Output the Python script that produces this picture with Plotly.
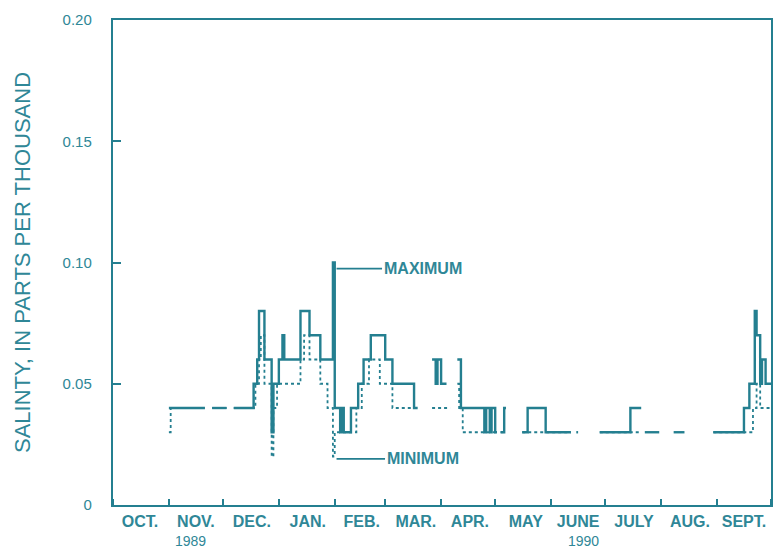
import plotly.graph_objects as go

TEAL_LINE = "#247f90"
TEAL_TEXT = "#2f8797"
FONT = "Liberation Sans, Arial, sans-serif"

# Daily maximum salinity, stored as change points (value holds until the next date).
# None marks a break in the record.
max_dates = [
    "1989-11-01", "1989-11-21", None,
    "1989-11-25", "1989-12-03", None,
    "1989-12-07", "1989-12-18", "1989-12-20", "1989-12-21", "1989-12-24",
    "1989-12-28", "1989-12-29", "1990-01-01", "1990-01-03", "1990-01-04",
    "1990-01-13", "1990-01-18", "1990-01-24", "1990-01-31", "1990-02-01",
    "1990-02-04", "1990-02-05", "1990-02-06", "1990-02-10", "1990-02-14",
    "1990-02-17", "1990-02-21", "1990-03-01", "1990-03-05", "1990-03-17",
    "1990-03-19", None,
    "1990-03-27", "1990-03-29", "1990-03-30", "1990-04-01", "1990-04-04", None,
    "1990-04-10", "1990-04-12", "1990-04-25", "1990-04-26", "1990-04-28",
    "1990-04-29", "1990-05-01", "1990-05-02", None,
    "1990-05-04", "1990-05-06", "1990-05-07", None,
    "1990-05-16", "1990-05-19", "1990-05-29", "1990-06-12", None,
    "1990-06-15", "1990-06-16", None,
    "1990-06-28", "1990-07-15", "1990-07-21", None,
    "1990-07-23", "1990-07-31", None,
    "1990-08-08", "1990-08-14", None,
    "1990-08-30", "1990-09-16", "1990-09-19", "1990-09-22", "1990-09-23",
    "1990-09-25", "1990-09-26", "1990-09-28", "1990-10-01",
]
max_vals = [
    0.04, 0.04, None,
    0.04, 0.04, None,
    0.04, 0.05, 0.06, 0.08, 0.06,
    0.03, 0.05, 0.06, 0.07, 0.06,
    0.08, 0.07, 0.06, 0.10, 0.04,
    0.03, 0.04, 0.03, 0.04, 0.05,
    0.06, 0.07, 0.06, 0.05, 0.04,
    0.04, None,
    0.06, 0.05, 0.06, 0.05, 0.05, None,
    0.06, 0.04, 0.03, 0.04, 0.03,
    0.04, 0.03, 0.03, None,
    0.03, 0.04, 0.04, None,
    0.03, 0.04, 0.03, 0.03, None,
    0.03, 0.03, None,
    0.03, 0.04, 0.04, None,
    0.03, 0.03, None,
    0.03, 0.03, None,
    0.03, 0.04, 0.05, 0.08, 0.07,
    0.05, 0.06, 0.05, 0.05,
]

# Daily minimum salinity, same encoding.
min_dates = [
    "1989-11-01", "1989-11-02", "1989-11-21", None,
    "1989-11-25", "1989-12-03", None,
    "1989-12-07", "1989-12-19", "1989-12-21", "1989-12-22", "1989-12-24",
    "1989-12-28", "1989-12-29", "1989-12-31", "1990-01-13", "1990-01-15",
    "1990-01-18", "1990-01-24", "1990-01-28", "1990-01-31", "1990-02-01",
    "1990-02-13", "1990-02-16", "1990-02-20", "1990-02-26", "1990-03-05",
    "1990-03-19", None,
    "1990-03-27", "1990-04-06", None,
    "1990-04-10", "1990-04-11", "1990-04-13", "1990-05-02", None,
    "1990-05-04", "1990-05-07", None,
    "1990-05-16", "1990-06-12", None,
    "1990-06-28", "1990-07-21", None,
    "1990-08-30", "1990-09-18", "1990-09-21", "1990-09-23", "1990-09-25",
    "1990-10-01",
]
min_vals = [
    0.03, 0.04, 0.04, None,
    0.04, 0.04, None,
    0.04, 0.05, 0.06, 0.07, 0.05,
    0.02, 0.04, 0.05, 0.06, 0.07,
    0.06, 0.05, 0.04, 0.02, 0.03,
    0.04, 0.05, 0.06, 0.05, 0.04,
    0.04, None,
    0.04, 0.04, None,
    0.05, 0.04, 0.03, 0.03, None,
    0.03, 0.03, None,
    0.03, 0.03, None,
    0.03, 0.03, None,
    0.03, 0.03, 0.04, 0.05, 0.04,
    0.04,
]

# Axis labelling
month_starts = [
    "1989-10-01", "1989-11-01", "1989-12-01", "1990-01-01", "1990-02-01",
    "1990-03-01", "1990-04-01", "1990-05-01", "1990-06-01", "1990-07-01",
    "1990-08-01", "1990-09-01", "1990-10-01",
]
month_mids = [
    "1989-10-16", "1989-11-16", "1989-12-17", "1990-01-17", "1990-02-16",
    "1990-03-18", "1990-04-17", "1990-05-18", "1990-06-16", "1990-07-17",
    "1990-08-17", "1990-09-16",
]
month_labels = [
    "OCT.", "NOV.", "DEC.", "JAN.", "FEB.", "MAR.", "APR.", "MAY",
    "JUNE", "JULY", "AUG.", "SEPT.",
]
year_dates = ["1989-11-13", "1990-06-19"]
year_labels = ["1989", "1990"]
y_ticks = [0, 0.05, 0.10, 0.15, 0.20]
y_labels = ["0", "0.05", "0.10", "0.15", "0.20"]

fig = go.Figure()

fig.add_trace(go.Scatter(
    x=min_dates, y=min_vals, mode="lines", line_shape="hv",
    line=dict(color=TEAL_LINE, width=1.8, dash="dot"),
    connectgaps=False, name="Minimum", showlegend=False,
))
fig.add_trace(go.Scatter(
    x=max_dates, y=max_vals, mode="lines", line_shape="hv",
    line=dict(color=TEAL_LINE, width=2.4),
    connectgaps=False, name="Maximum", showlegend=False,
))

label_font = dict(family=FONT, size=16, color=TEAL_TEXT, weight="bold")

fig.add_annotation(
    x="1990-02-02", y=0.0975, text="MAXIMUM", showarrow=True,
    arrowhead=0, arrowwidth=1.8, arrowcolor=TEAL_LINE,
    ax=86, ay=0, font=label_font, standoff=0,
)
fig.add_annotation(
    x="1990-02-02", y=0.019, text="MINIMUM", showarrow=True,
    arrowhead=0, arrowwidth=1.8, arrowcolor=TEAL_LINE,
    ax=86, ay=0, font=label_font, standoff=0,
)

# Water-year labels under November and June
for d, yr in zip(year_dates, year_labels):
    fig.add_annotation(
        x=d, xref="x", y=0, yref="paper", yshift=-36, yanchor="middle",
        text=yr, showarrow=False,
        font=dict(family=FONT, size=14, color=TEAL_TEXT),
    )

fig.update_layout(
    width=778, height=549,
    margin=dict(l=113, r=7, t=20, b=44),
    paper_bgcolor="white", plot_bgcolor="white",
    font=dict(family=FONT, color=TEAL_TEXT, size=15),
)

fig.update_xaxes(
    type="date", range=["1989-10-01", "1990-10-01"], automargin=False,
    showline=True, linecolor=TEAL_LINE, linewidth=2.4, mirror=True,
    showgrid=False, zeroline=False,
    tickmode="array", tickvals=month_mids, ticktext=month_labels,
    ticks="", ticklabelstandoff=1,
    tickfont=dict(family=FONT, size=16, color=TEAL_TEXT, weight="bold"),
    minor=dict(tickmode="array", tickvals=month_starts, ticks="inside",
               ticklen=6, tickwidth=1.6, tickcolor=TEAL_LINE, showgrid=False),
)

fig.update_yaxes(
    range=[0, 0.2], automargin=False,
    showline=True, linecolor=TEAL_LINE, linewidth=2.4, mirror=True,
    showgrid=False, zeroline=False,
    tickmode="array", tickvals=y_ticks, ticktext=y_labels,
    ticks="inside", ticklen=8, tickwidth=1.6, tickcolor=TEAL_LINE,
    ticklabelstandoff=16,
    tickfont=dict(family=FONT, size=15, color=TEAL_TEXT),
    title=dict(text="SALINTY, IN PARTS PER THOUSAND",
               font=dict(family=FONT, size=22, color=TEAL_TEXT), standoff=26),
)

fig.write_html("out.html")
